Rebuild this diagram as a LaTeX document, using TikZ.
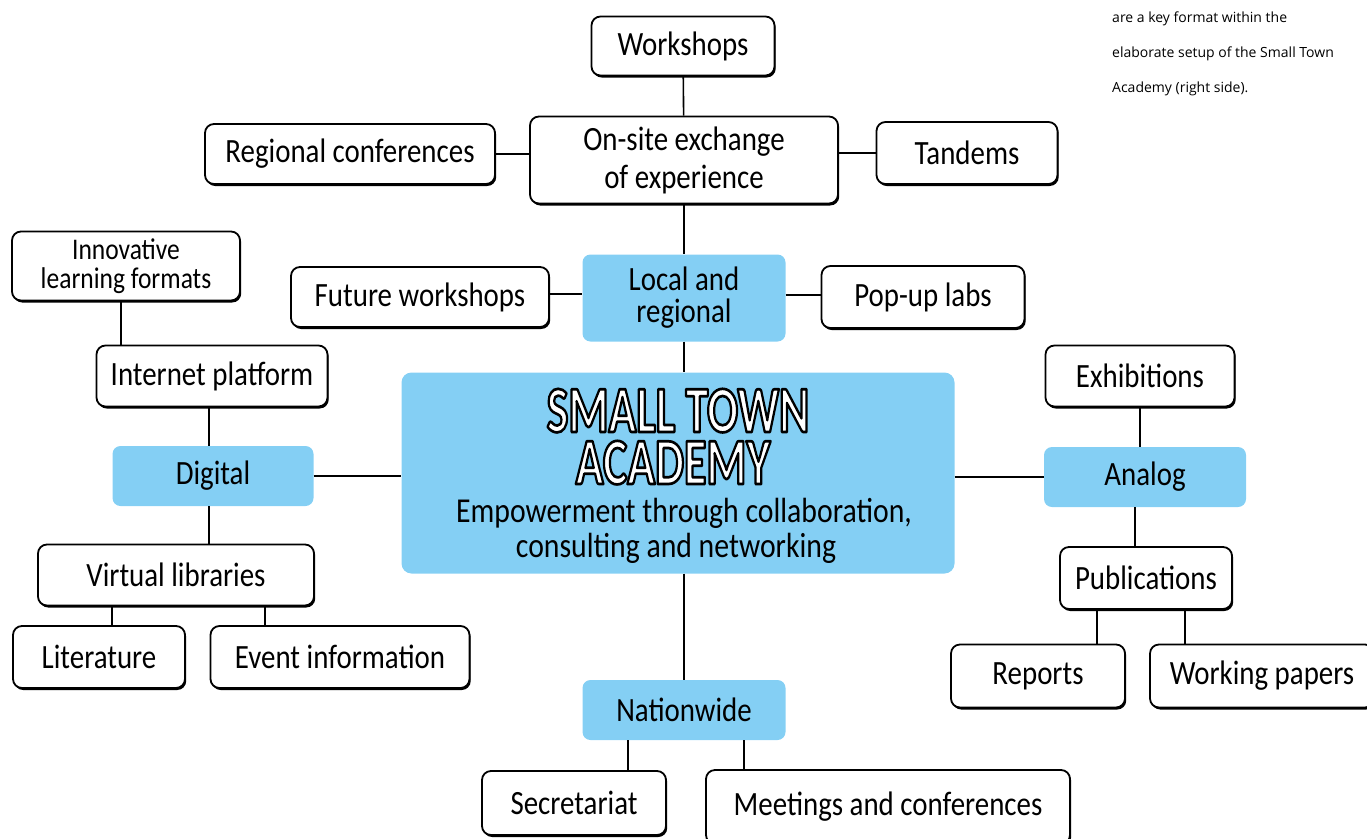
\documentclass[tikz,border=0pt]{standalone}
\usepackage{fontspec}
\setmainfont[FakeStretch=0.85]{Carlito}
\newfontfamily\notefont{Open Sans}
\usetikzlibrary{positioning,shadows}

\definecolor{skyblue}{RGB}{132,207,244}

% outlined letters: white fill, black stroke
\newcommand{\outlined}[1]{{\color{white}\special{pdf:literal direct 0 G 2 Tr 2.2 w 1 j}#1\special{pdf:literal direct 0 Tr}}}
% tall capitals for the title
\newcommand{\tallcaps}[1]{\scalebox{1}[1.22]{\outlined{#1}}}

\begin{document}
\begin{tikzpicture}[x=1pt,y=-1pt,
  wh/.style 2 args={minimum width=#1pt,minimum height=#2pt},
  box/.style={draw,line width=1.8pt,rounded corners=9pt,fill=white,align=center,
    inner sep=0pt,font=\fontsize{34}{38}\selectfont,
    drop shadow={fill=black,opacity=1,shadow xshift=1.2pt,shadow yshift=-2pt}},
  topic/.style={fill=skyblue,rounded corners=8pt,align=center,inner sep=0pt,
    font=\fontsize{34}{32}\selectfont},
  titletext/.style={font=\bfseries\fontsize{54}{54}\selectfont,inner sep=0pt,
    anchor=base,text depth=0pt},
  claimtext/.style={font=\fontsize{35}{36}\selectfont,inner sep=0pt,anchor=base},
  note/.style={font=\notefont\fontsize{14}{14}\selectfont,anchor=base west,inner sep=0pt},
  link/.style={line width=1.6pt}]
 \useasboundingbox (0,0) rectangle (1367,838);

 % centre
 \node[topic,wh={553}{201},rounded corners=10pt] (academy) at (678,473) {};
 \node[titletext] (title1) at (678,432) {\tallcaps{SMALL TOWN}};
 \node[titletext] (title2) at (673,484) {\tallcaps{ACADEMY}};
 \node[claimtext] (claim1) at (684,522) {Empowerment through collaboration,};
 \node[claimtext] (claim2) at (676,557) {consulting and networking};

 % local and regional branch
 \node[topic,wh={203}{87}] (local) at (684,298) {Local and\\regional};
 \node[box,wh={308}{87}] (onsite) at (684,160) {On-site exchange\\of experience};
 \node[box,wh={183}{59}] (work) at (683,46) {Workshops};
 \node[box,wh={290}{60}] (regconf) at (350,154) {Regional conferences};
 \node[box,wh={181}{62}] (tandem) at (967,153) {Tandems};
 \node[box,wh={258}{60}] (future) at (420,297) {Future workshops};
 \node[box,wh={203}{62}] (popup) at (923,297) {Pop-up labs};

 % digital branch
 \node[topic,wh={201}{60}] (digital) at (213,476) {Digital};
 \node[box,wh={231}{61}] (inet) at (212,376) {Internet platform};
 \node[box,wh={228}{69},font=\fontsize{30}{29}\selectfont] (innov) at (126,266) {Innovative\\learning formats};
 \node[box,wh={276}{61}] (virtual) at (176,575) {Virtual libraries};
 \node[box,wh={172}{62}] (lit) at (99,657) {Literature};
 \node[box,wh={259}{62}] (event) at (340,657) {Event information};

 % nationwide branch
 \node[topic,wh={203}{60}] (nation) at (684,710) {Nationwide};
 \node[box,wh={184}{64}] (secr) at (574,803) {Secretariat};
 \node[box,wh={364}{74}] (meet) at (888,807) {Meetings and conferences};

 % analog branch
 \node[topic,wh={202}{60}] (analog) at (1145,477) {Analog};
 \node[box,wh={189}{61}] (exhib) at (1140,376) {Exhibitions};
 \node[box,wh={172}{62}] (pub) at (1146,578) {Publications};
 \node[box,wh={174}{63}] (reports) at (1038,676) {Reports};
 \node[box,wh={224}{63}] (wpapers) at (1262,676) {Working papers};

 % caption text
 \node[note] (note1) at (1112,22) {are a key format within the};
 \node[note] (note2) at (1112,57) {elaborate setup of the Small Town};
 \node[note] (note3) at (1112,92) {Academy (right side).};

 % connectors
 \draw[link] (work) -- (onsite);
 \draw[link] (regconf.east) -- (regconf.east -| onsite.west);
 \draw[link] (tandem.west -| onsite.east) -- (tandem.west);
 \draw[link] (onsite) -- (local);
 \draw[link] ([yshift=3pt]future.east) -- ([yshift=3pt]future.east -| local.west);
 \draw[link] ([yshift=3pt]local.east) -- ([yshift=3pt]local.east -| popup.west);
 \draw[link] (local.south) -- (local.south |- academy.north);

 \draw[link] ([xshift=-5pt]innov.south) -- ([xshift=-5pt]innov.south |- inet.north);
 \draw[link] ([xshift=-3pt]inet.south) -- ([xshift=-3pt]inet.south |- digital.north);
 \draw[link] (digital.east) -- (digital.east -| academy.west);
 \draw[link] ([xshift=-4pt]digital.south) -- ([xshift=-4pt]digital.south |- virtual.north);
 \draw[link] ([xshift=13pt]lit.north) -- ([xshift=13pt]lit.north |- virtual.south);
 \draw[link] ([xshift=-75pt]event.north) -- ([xshift=-75pt]event.north |- virtual.south);

 \draw[link] (nation.north |- academy.south) -- (nation.north);
 \draw[link] ([xshift=-56pt]nation.south) -- ([xshift=-56pt]nation.south |- secr.north);
 \draw[link] ([xshift=60pt]nation.south) -- ([xshift=60pt]nation.south |- meet.north);

 \draw[link] (academy.east |- analog.west) -- (analog.west);
 \draw[link] (exhib.south) -- (exhib.south |- analog.north);
 \draw[link] ([xshift=-10pt]analog.south) -- ([xshift=-10pt]analog.south |- pub.north);
 \draw[link] ([xshift=-49pt]pub.south) -- ([xshift=-49pt]pub.south |- reports.north);
 \draw[link] ([xshift=39pt]pub.south) -- ([xshift=39pt]pub.south |- wpapers.north);
\end{tikzpicture}
\end{document}
